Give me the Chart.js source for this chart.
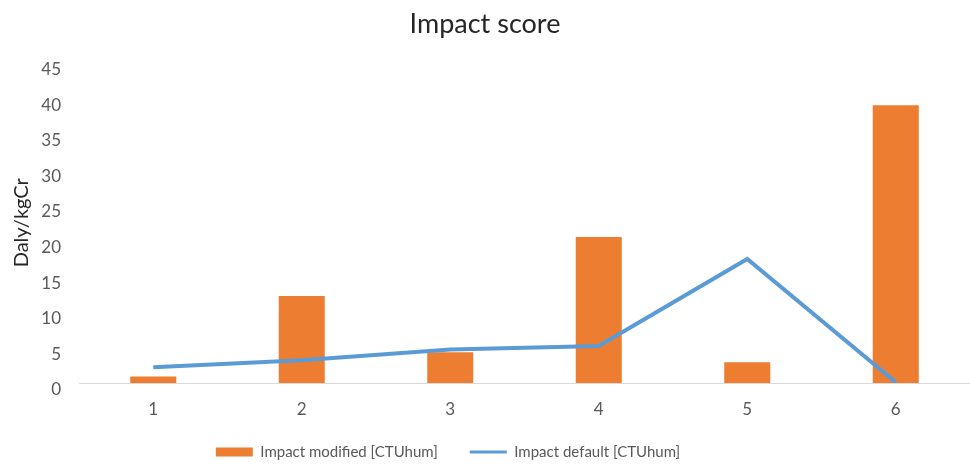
<!DOCTYPE html>
<html>
<head>
<meta charset="utf-8">
<script src="https://cdn.jsdelivr.net/npm/chart.js@4.4.1/dist/chart.umd.min.js"></script>
<style>
  html, body { margin: 0; padding: 0; background: #ffffff; }
  #wrap { width: 970px; height: 464px; position: relative; }
</style>
</head>
<body>
<div id="wrap"><canvas id="c"></canvas></div>
<script>
const categories = ['1', '2', '3', '4', '5', '6'];
const impactModified = [0.9, 12.2, 4.3, 20.5, 2.9, 39.0];
const impactDefault = [2.2, 3.2, 4.7, 5.2, 17.4, 0.1];
const seriesNames = ['Impact modified [CTUhum]', 'Impact default [CTUhum]'];
const chartTitle = 'Impact score';
const yAxisTitle = 'Daly/kgCr';

const FONT = 'Lato, "Open Sans", sans-serif';
const GREY = '#595959';

const legendShift = {
  id: 'legendShift',
  afterLayout(chart) {
    const lg = chart.legend;
    if (lg) {
      lg.left -= 37; lg.right -= 37;
      lg.top -= 7;
      lg.bottom = chart.height;
      lg.height = lg.bottom - lg.top;
    }
  }
};

new Chart(document.getElementById('c'), {
  data: {
    labels: categories,
    datasets: [
      {
        type: 'bar',
        label: seriesNames[0],
        data: impactModified,
        backgroundColor: '#ed7d31',
        borderWidth: 0,
        categoryPercentage: 1.0,
        barPercentage: 0.31,
        order: 1
      },
      {
        type: 'line',
        label: seriesNames[1],
        data: impactDefault,
        borderColor: '#5b9bd5',
        backgroundColor: '#5b9bd5',
        borderWidth: 4,
        pointRadius: 0,
        pointHoverRadius: 0,
        tension: 0,
        fill: false,
        order: 0
      }
    ]
  },
  plugins: [legendShift],
  options: {
    responsive: true,
    maintainAspectRatio: false,
    animation: false,
    layout: { padding: { left: 0, right: 0, top: 0, bottom: 0 } },
    plugins: {
      tooltip: { enabled: false },
      title: {
        display: true,
        text: chartTitle,
        color: '#262626',
        font: { family: FONT, size: 27, weight: 'normal' },
        padding: { top: 8, bottom: 22 }
      },
      legend: {
        position: 'bottom',
        maxHeight: 44.5,
        labels: {
          usePointStyle: true,
          pointStyleWidth: 37,
          boxHeight: 9,
          padding: 32,
          color: GREY,
          font: { family: FONT, size: 15 },
          generateLabels: (chart) => chart.data.datasets.map((ds, i) => ({
            text: ds.label,
            fillStyle: ds.type === 'bar' ? ds.backgroundColor : 'transparent',
            strokeStyle: ds.type === 'bar' ? ds.backgroundColor : ds.borderColor,
            lineWidth: ds.type === 'bar' ? 0 : 3,
            pointStyle: ds.type === 'bar' ? 'rect' : 'line',
            fontColor: GREY,
            hidden: false,
            datasetIndex: i
          }))
        }
      }
    },
    scales: {
      x: {
        grid: { display: false, drawTicks: false },
        border: { display: true, color: '#d9d9d9', width: 1 },
        ticks: { color: GREY, font: { family: FONT, size: 17 }, padding: 16 },
        afterFit: (scale) => { scale.height = 36.5; }
      },
      y: {
        min: 0,
        max: 45,
        grid: { display: false, drawTicks: false },
        border: { display: false },
        ticks: {
          stepSize: 5,
          color: GREY,
          font: { family: FONT, size: 17 },
          padding: 18,
          labelOffset: 7
        },
        title: {
          display: true,
          text: yAxisTitle,
          color: '#262626',
          font: { family: FONT, size: 20 },
          padding: { top: 10, bottom: 0 }
        },
        afterFit: (scale) => { scale.width = 79; }
      }
    }
  }
});
</script>
</body>
</html>
